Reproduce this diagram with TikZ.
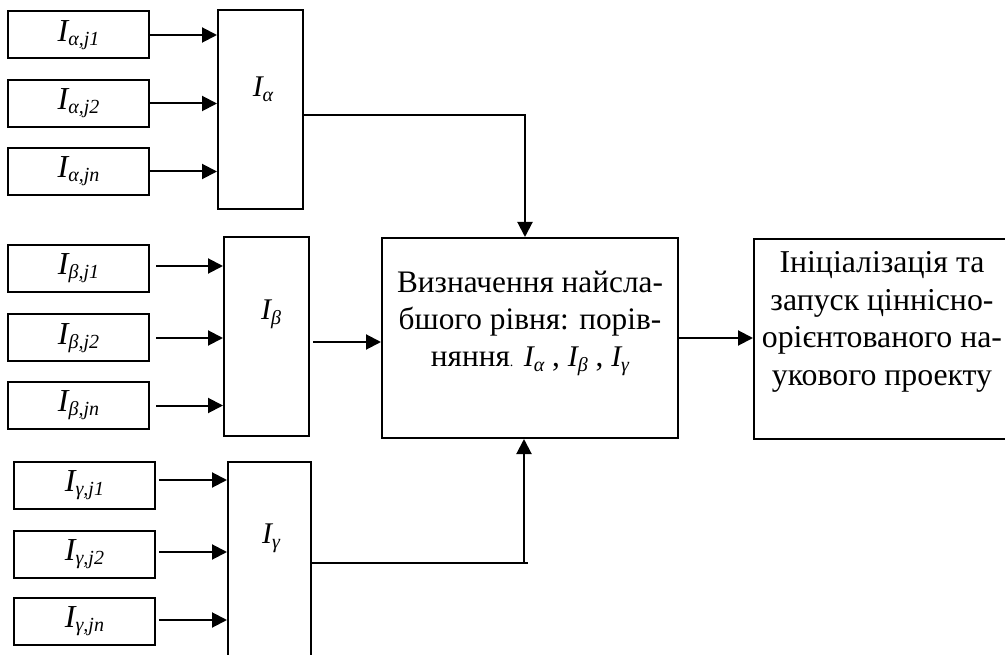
\documentclass[tikz,border=0pt]{standalone}
\usepackage{fontspec}
\setmainfont{Liberation Serif}
\usetikzlibrary{arrows.meta}
\newcommand{\inlab}[1]{{\fontsize{32}{32}\selectfont\itshape I}\raisebox{-4pt}{\fontsize{20}{20}\selectfont\itshape #1}}
\newcommand{\grlab}[1]{{\fontsize{30}{30}\selectfont\itshape I}\raisebox{-5pt}{\fontsize{20}{20}\selectfont\itshape #1}}
\begin{document}
\begin{tikzpicture}[x=1pt,y=-1pt,
  box/.style={draw, line width=2pt, inner sep=0pt},
  inbox/.style={box, minimum width=141pt, minimum height=47pt},
  grbox/.style={box, minimum width=85pt, minimum height=199pt},
  conn/.style={line width=2pt},
  arr/.style={conn, -{Triangle[length=15pt,width=15pt]}}]
\useasboundingbox (0,0) rectangle (1005,655);
\begin{scope}
\clip (0,0) rectangle (1005,655);
% alpha group
\node[inbox] (a1) at (78.5,35) {\inlab{α,j1}};
\node[inbox] (a2) at (78.5,103.5) {\inlab{α,j2}};
\node[inbox] (a3) at (78.5,171.5) {\inlab{α,jn}};
\node[grbox] (Ia) at (260.5,109.5) {};
\node (Ialab) at (263,89) {\grlab{α}};
% beta group
\node[inbox] (b1) at (78.5,268.5) {\inlab{β,j1}};
\node[inbox] (b2) at (78.5,338) {\inlab{β,j2}};
\node[inbox] (b3) at (78.5,405.5) {\inlab{β,jn}};
\node[grbox] (Ib) at (266.5,336.5) {};
\node (Iblab) at (271,314) {\grlab{β}};
% gamma group
\node[inbox] (g1) at (84.5,485.5) {\inlab{γ,j1}};
\node[inbox] (g2) at (84.5,554.5) {\inlab{γ,j2}};
\node[inbox] (g3) at (84.5,621.5) {\inlab{γ,jn}};
\node[box, minimum width=83pt, minimum height=210pt] (Ig) at (269.5,567) {};
\node (Iglab) at (271,538) {\grlab{γ}};
% middle
\node[box, minimum width=296pt, minimum height=200pt] (mid) at (530,338) {};
\node[align=center, inner sep=0pt, font=\fontsize{31.3}{37}\selectfont] (midtxt) at (530,323)
  {Визначення найсла-\\бшого рівня: порів-\\няння{\fontsize{14}{14}\selectfont.} \grlab{α} , \grlab{β} , \grlab{γ}};
% right
\node[box, minimum width=260pt, minimum height=200pt] (res) at (884,339) {};
\node[align=center, inner sep=0pt, font=\fontsize{31.8}{37.5}\selectfont] (restxt) at (882,322)
  {Ініціалізація та\\запуск ціннісно-\\орієнтованого на-\\укового проекту};
\end{scope}
% coordinates
\coordinate (ta) at (525,115);
\coordinate (tb) at (313,342);
\coordinate (tg) at (524,563);
\coordinate (tge) at (528,563);
% arrows alpha
\draw[arr] (a1.east) -- (a1.east -| Ia.west);
\draw[arr] (a2.east) -- (a2.east -| Ia.west);
\draw[arr] (a3.east) -- (a3.east -| Ia.west);
% arrows beta
\draw[arr, shorten <=6pt] ([yshift=2.5pt]b1.east) -- ([yshift=2.5pt]b1.east -| Ib.west);
\draw[arr, shorten <=6pt] (b2.east) -- (b2.east -| Ib.west);
\draw[arr, shorten <=6pt] (b3.east) -- (b3.east -| Ib.west);
% arrows gamma
\draw[arr, shorten <=3pt] ([yshift=5.5pt]g1.east) -- ([yshift=5.5pt]g1.east -| Ig.west);
\draw[arr, shorten <=3pt] ([yshift=2.5pt]g2.east) -- ([yshift=2.5pt]g2.east -| Ig.west);
\draw[arr, shorten <=3pt] ([yshift=1.5pt]g3.east) -- ([yshift=1.5pt]g3.east -| Ig.west);
% group outputs
\draw[arr] (Ia.east |- ta) -- (ta) -- (ta |- mid.north);
\draw[arr] (tb) -- (tb -| mid.west);
\draw[conn] (Ig.east |- tg) -- (tge);
\draw[arr] (tg) -- (tg |- mid.south);
\draw[arr] (mid.east) -- (mid.east -| res.west);
\end{tikzpicture}
\end{document}
